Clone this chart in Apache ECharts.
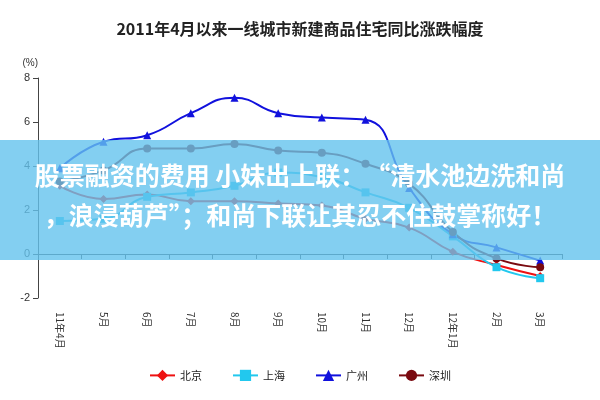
<!DOCTYPE html><html><head><meta charset="utf-8"><script src="https://cdn.jsdelivr.net/npm/echarts@6/dist/echarts.min.js"></script></head><body style="margin:0"><div id="c" style="width:600px;height:400px"></div><script>
const categories=['11年4月','5月','6月','7月','8月','9月','10月','11月','12月','12年1月','2月','3月'];
const beijing=[3.1,2.5,2.7,2.4,2.4,2.3,2.2,1.6,1.2,0.1,-0.5,-1.0];
const shanghai=[1.5,1.6,2.6,2.8,3.1,3.7,3.5,2.8,2.1,0.8,-0.6,-1.1];
const guangzhou=[3.9,5.1,5.4,6.4,7.1,6.4,6.2,6.1,3.0,0.9,0.3,-0.3];
const shenzhen=[3.3,3.8,4.8,4.8,5.0,4.7,4.6,4.1,3.2,1.0,-0.2,-0.6];
const F='"Noto Sans CJK SC",sans-serif';
function s(name,data,color,symbol){return{name,type:'line',data,smooth:true,symbol,symbolSize:8,lineStyle:{color,width:2},itemStyle:{color}};}
const ch=echarts.init(document.getElementById('c'));
ch.setOption({
title:{text:'2011年4月以来一线城市新建商品住宅同比涨跌幅度',left:'center',top:16,textStyle:{fontFamily:F,fontSize:16,fontWeight:'bold',color:'#222'}},
legend:{bottom:14,itemGap:30,textStyle:{fontFamily:F,fontSize:11,color:'#222'},data:['北京','上海','广州','深圳']},
grid:{left:38,right:38,top:78,bottom:102},
xAxis:{type:'category',data:categories,boundaryGap:true,axisLine:{onZero:true,lineStyle:{color:'#444'}},axisTick:{show:true,interval:0},axisLabel:{rotate:-90,interval:0,fontFamily:F,fontSize:10,color:'#333',margin:14}},
yAxis:{type:'value',min:-2,max:8,interval:2,name:'(%)',nameGap:10,nameTextStyle:{fontSize:10,color:'#333',align:'right'},splitLine:{show:false},axisLine:{show:true,lineStyle:{color:'#444'}},axisTick:{show:true},axisLabel:{fontSize:11,color:'#333'}},
series:[s('北京',beijing,'#ee1111','diamond'),s('上海',shanghai,'#22c8ee','rect'),s('广州',guangzhou,'#1111dd','triangle'),s('深圳',shenzhen,'#7a0a10','circle')],
graphic:[{type:'rect',left:0,top:140,shape:{width:600,height:120},style:{fill:'rgba(100,195,238,0.8)'},z:100},
{type:'text',left:'center',top:163,style:{text:'股票融资的费用 小妹出上联：“清水池边洗和尚',fill:'#fff',font:'bold 25px "Noto Sans CJK SC"'},z:101},
{type:'text',left:'center',top:203,style:{text:'，浪浸葫芦”；和尚下联让其忍不住鼓掌称好！',fill:'#fff',font:'bold 25px "Noto Sans CJK SC"'},z:101}]
});
</script></body></html>
